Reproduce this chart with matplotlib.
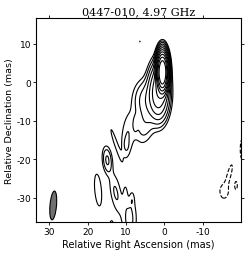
import numpy as np
import matplotlib
matplotlib.use("Agg")
import matplotlib.pyplot as plt
from matplotlib.patches import Ellipse

plt.rcParams["axes.unicode_minus"] = False

# Gaussian model components: x (mas), y (mas), amplitude, sigma_x, sigma_y, angle (deg)
comp_x   = [0.5, 1.5, 4.5, 5.0, 7.6, 9.7, 9.9, 12.9, 14.9, 12.7, 17.3,
            10.2, 8.4, 9.1, 13.8, 6.4,
            -15.6, -16.9, -18.7, -20.3]
comp_y   = [2.6, -2.5, -4.5, -10.5, -10.8, -14.2, -16.4, -15.3, -20.2, -28.7, -28.0,
            -29.3, -30.3, -35.5, -37.5, 10.6,
            -28.3, -24.0, -26.8, -17.4]
comp_amp = [2720, 60, 6.0, 3.0, 1.4, 2.0, 0.9, 1.4, 4.5, 2.2, 1.8,
            1.2, 1.0, 2.5, 1.3, 1.05,
            -1.8, -1.8, -1.3, -1.8]
comp_sx  = [0.62, 1.3, 2.0, 1.6, 0.45, 1.15, 0.45, 0.45, 0.75, 1.0, 0.8,
            0.4, 0.4, 1.3, 0.7, 0.25,
            1.0, 0.45, 0.45, 0.45]
comp_sy  = [2.14, 3.5, 3.0, 3.5, 1.6, 4.5, 1.2, 3.8, 2.1, 3.7, 3.8,
            2.0, 1.3, 4.0, 2.0, 0.25,
            1.6, 2.4, 1.4, 2.4]
comp_ang = [0, 0, 0, -10, 0, -5, 0, 18, 5, 10, 5,
            0, 0, 0, 0, 0,
            0, -15, 0, 0]

levels_pos = [1, 2, 4, 8, 16, 32, 64, 128, 256, 512, 1024]
levels_neg = [-1]

beam_x, beam_y = 29.0, -32.0
beam_major, beam_minor, beam_pa = 7.5, 1.7, 5.0

title = "0447-010, 4.97 GHz"
xlabel = "Relative Right Ascension (mas)"
ylabel = "Relative Declination (mas)"
xticks = [30, 20, 10, 0, -10]
yticks = [10, 0, -10, -20, -30]

xg = np.linspace(34, -21, 800)
yg = np.linspace(-38, 17, 800)
X, Y = np.meshgrid(xg, yg)
Z = np.zeros_like(X)
for x0, y0, a, sx, sy, ang in zip(comp_x, comp_y, comp_amp, comp_sx, comp_sy, comp_ang):
    t = np.deg2rad(ang)
    dx = X - x0
    dy = Y - y0
    u = dx * np.cos(t) - dy * np.sin(t)
    v = dx * np.sin(t) + dy * np.cos(t)
    Z += a * np.exp(-0.5 * ((u / sx) ** 2 + (v / sy) ** 2))

fig = plt.figure(figsize=(2.5, 2.55), dpi=100)
ax = fig.add_axes([36 / 250, 32 / 255, 205 / 250, 204 / 255])
ax.contour(X, Y, Z, levels=levels_pos, colors="black", linewidths=0.8, linestyles="solid")
ax.contour(X, Y, Z, levels=levels_neg, colors="black", linewidths=0.8, linestyles="dashed")
ax.add_patch(Ellipse((beam_x, beam_y), beam_minor, beam_major, angle=beam_pa,
                     facecolor="#707070", edgecolor="black", linewidth=0.8))
ax.set_xlim(33.5, -20.0)
ax.set_ylim(-36.3, 16.7)
ax.set_xticks(xticks)
ax.set_yticks(yticks)
ax.tick_params(labelsize=6.5, length=2.5, width=0.6, top=True, right=True, pad=1)
ax.set_xlabel(xlabel, fontsize=7, labelpad=2)
ax.set_ylabel(ylabel, fontsize=6.8)
ax.yaxis.set_label_coords(-0.107, 0.5)
ax.set_title(title, fontsize=8, family="DejaVu Serif", pad=3)
for s in ax.spines.values():
    s.set_linewidth(0.8)
fig.savefig("out.png", dpi=100)
